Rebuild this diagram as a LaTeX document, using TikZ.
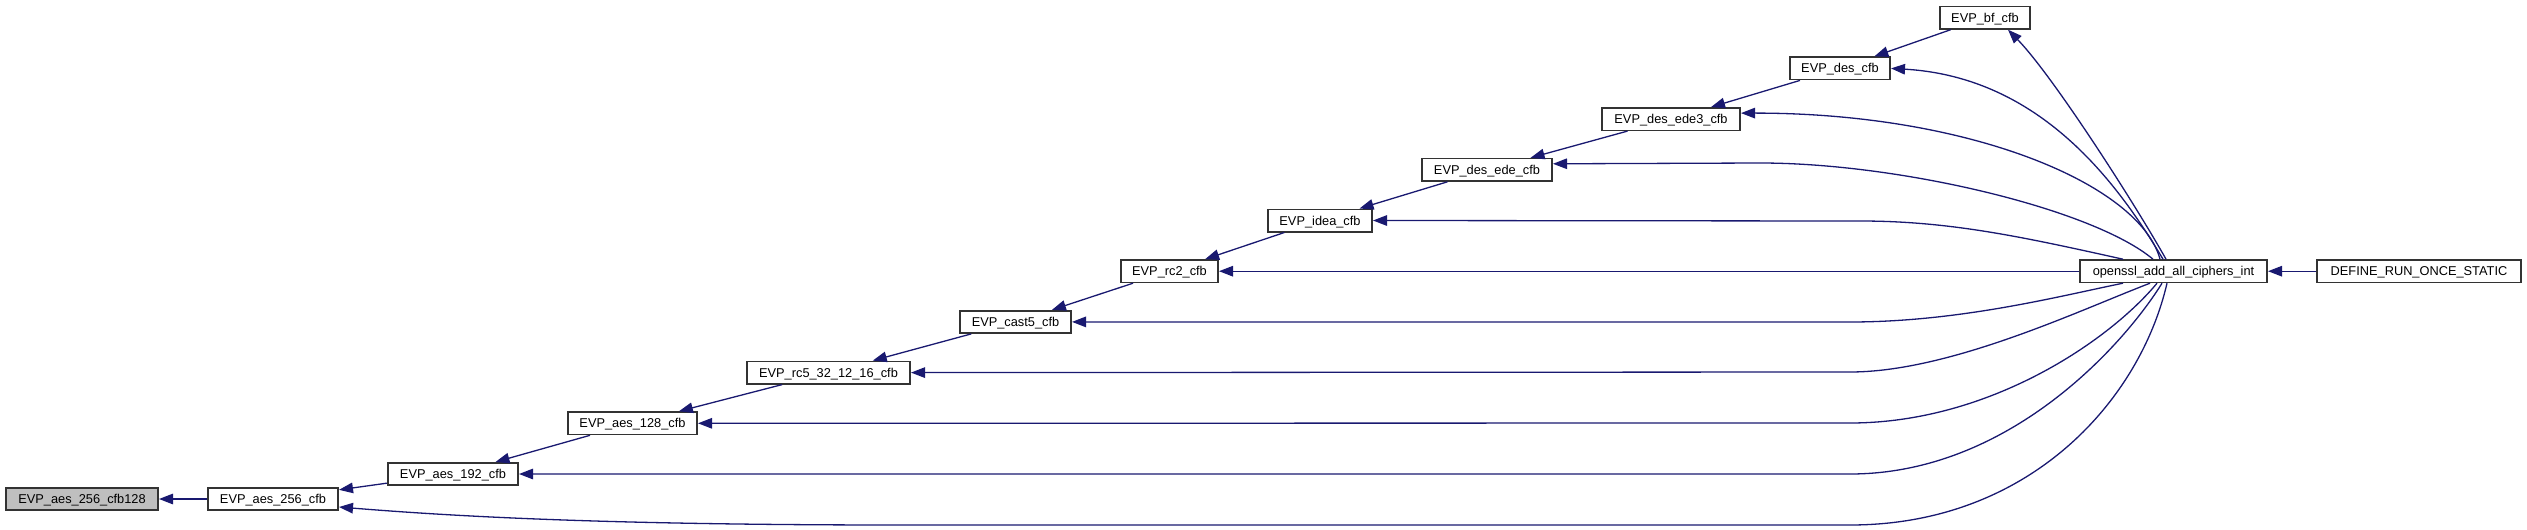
\documentclass[tikz,border=0pt]{standalone}
\usepackage{fontspec}
\setmainfont{Liberation Sans}
\usepackage{xcolor}
\usetikzlibrary{arrows.meta,positioning,calc}
\definecolor{midnight}{RGB}{25,25,112}

\begin{document}
\begin{tikzpicture}[
   x=1pt, y=1pt,
   node distance=26.7pt and 48pt,
   box/.style={draw=black!80, line width=1.6pt, fill=white, inner sep=2pt,
      minimum height=22.4pt, minimum width=#1, text height=9pt, text depth=0pt,
      font=\fontsize{12.8}{15}\selectfont},
   box/.default=100pt,
   root/.style={box=#1, fill=black!25},
   call/.style={-{Triangle[length=14pt, width=10.5pt]}, draw=midnight, line width=1.3pt}
]
\useasboundingbox (0,0) rectangle (2527,-530);

\node[root=152.4pt] (cfb128) at (82,-499) {EVP\_aes\_256\_cfb128};
\node[box=130.4pt, right=of cfb128] (aes256) {EVP\_aes\_256\_cfb};
\node[box=130.4pt, above right=1pt and 48pt of aes256] (aes192) {EVP\_aes\_192\_cfb};
\node[box=129.4pt, above right=of aes192] (aes128) {EVP\_aes\_128\_cfb};
\node[box=163.4pt, above right=of aes128] (rc5) {EVP\_rc5\_32\_12\_16\_cfb};
\node[box=111.4pt, above right=of rc5] (cast5) {EVP\_cast5\_cfb};
\node[box=97.4pt, above right=of cast5] (rc2) {EVP\_rc2\_cfb};
\node[box=104.4pt, above right=of rc2] (idea) {EVP\_idea\_cfb};
\node[box=130.4pt, above right=of idea] (ede) {EVP\_des\_ede\_cfb};
\node[box=138.4pt, above right=of ede] (ede3) {EVP\_des\_ede3\_cfb};
\node[box=100.4pt, above right=of ede3] (des) {EVP\_des\_cfb};
\node[box=90.4pt, above right=of des] (bf) {EVP\_bf\_cfb};
\coordinate (ocol) at (bf.east |- rc2.east);
\node[box=187.4pt, right=of ocol] (openssl) {openssl\_add\_all\_ciphers\_int};
\node[box=204.4pt, right=of openssl] (define) {DEFINE\_RUN\_ONCE\_STATIC};

% the cfb chain
\draw[call] (aes256) -- (cfb128);
\draw[call] (aes192) -- (aes256);
\draw[call] (aes128) -- (aes192);
\draw[call] (rc5) -- (aes128);
\draw[call] (cast5) -- (rc5);
\draw[call] (rc2) -- (cast5);
\draw[call] (idea) -- (rc2);
\draw[call] (ede) -- (idea);
\draw[call] (ede3) -- (ede);
\draw[call] (des) -- (ede3);
\draw[call] (bf) -- (des);
\draw[call] (define) -- (openssl);
\draw[call] (openssl) -- (rc2);

% calls from openssl_add_all_ciphers_int, upper side
\draw[call] ($(openssl.north)+(-7.5,0)$) .. controls (2135,-204) and (2053,-76) .. ($(bf.south)+(23,0)$);
\draw[call] ($(openssl.north)+(-10.5,0)$) .. controls (2118,-184) and (2041,-77) .. (des.east);
\draw[call] ($(openssl.north)+(-13.5,0)$) .. controls (2140,-185) and (1971,-113) .. ($(ede3.east)+(0,6)$);
\draw[call] ($(openssl.north)+(-20.5,0)$) .. controls (2093,-209) and (1900,-163) .. (1760,-163) -- ($(ede.east)+(0,6)$);
\draw[call] ($(openssl.north)+(-50.5,0)$) .. controls (2023,-237) and (1950,-221) .. (1860,-221) -- (idea.east);

% lower side
\draw[call] ($(openssl.south)+(-50.5,0)$) .. controls (2060,-296) and (1960,-322) .. (1850,-322) -- (cast5.east);
\draw[call] ($(openssl.south)+(-23.5,0)$) .. controls (2080,-310) and (1950,-372) .. (1850,-372) -- (rc5.east);
\draw[call] ($(openssl.south)+(-16.5,0)$) .. controls (2110,-340) and (1990,-423) .. (1850,-423) -- (aes128.east);
\draw[call] ($(openssl.south)+(-11.5,0)$) .. controls (2125,-343) and (2010,-474) .. (1850,-474) -- (aes192.east);
\draw[call] ($(openssl.south)+(-6.5,0)$) .. controls (2140,-400) and (2030,-525) .. (1850,-525)
   -- (900,-525) .. controls (600,-525) and (450,-516) .. ($(aes256.east)+(0,-8)$);
\end{tikzpicture}
\end{document}
